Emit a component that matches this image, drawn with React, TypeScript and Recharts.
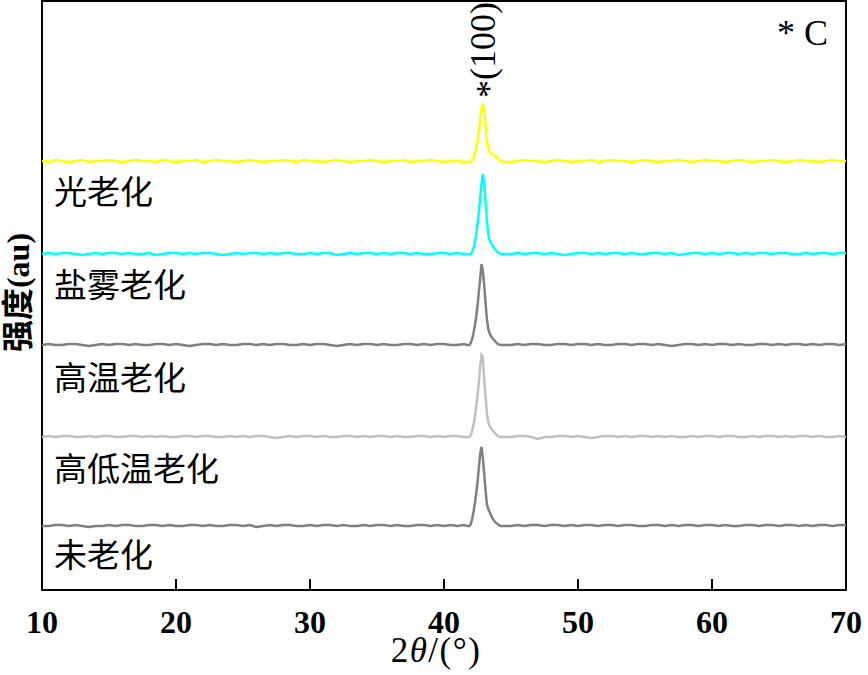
import React from 'react';
import { LineChart, Line, XAxis, YAxis, ReferenceArea, ReferenceLine, ReferenceDot } from 'recharts';

// 2θ sample positions (degrees): before the peak, across the peak, after the peak
const thetaPre = [
  10, 10.5, 11, 11.5, 12, 12.5, 13, 13.5, 14, 14.5, 15, 15.5, 16, 16.5, 17, 17.5,
  18, 18.5, 19, 19.5, 20, 20.5, 21, 21.5, 22, 22.5, 23, 23.5, 24, 24.5, 25, 25.5,
  26, 26.5, 27, 27.5, 28, 28.5, 29, 29.5, 30, 30.5, 31, 31.5, 32, 32.5, 33, 33.5,
  34, 34.5, 35, 35.5, 36, 36.5, 37, 37.5, 38, 38.5, 39, 39.5, 40, 40.5, 41, 41.5,
];
const thetaPeak = [
  41.7, 41.9, 42.0, 42.1, 42.2, 42.3, 42.4, 42.5, 42.6, 42.7, 42.8, 42.9,
  43.0, 43.1, 43.2, 43.3, 43.4, 43.5, 43.6, 43.8, 44.0, 44.2, 44.5,
];
const thetaPost = [
  45, 45.5, 46, 46.5, 47, 47.5, 48, 48.5, 49, 49.5, 50, 50.5, 51, 51.5, 52, 52.5,
  53, 53.5, 54, 54.5, 55, 55.5, 56, 56.5, 57, 57.5, 58, 58.5, 59, 59.5, 60, 60.5,
  61, 61.5, 62, 62.5, 63, 63.5, 64, 64.5, 65, 65.5, 66, 66.5, 67, 67.5, 68, 68.5,
  69, 69.5, 70,
];
const twoTheta = [...thetaPre, ...thetaPeak, ...thetaPost];

// intensities (au), relative to each trace's own baseline
const unaged = [
  0, 0, 1, 1, 0, 1, 0, -1, 0, 0, 1, 0, 1, 1, 0, 0, 1, 1, 0, 1, 0, 0, 1, 1, 0, 1, 0, 0, 1, 1, 0, 1,
  -1, 0, 1, 0, 1, 1, 0, 0, 1, 0, 1, 1, 0, 1, 0, 0, 1, 0, 1, 1, 0, 1, 0, 0, 1, 1, 0, 1, 0, 1, 0, 1,
  0, 0, 2, 7, 14, 22, 32, 44, 58, 72, 79, 68, 52, 36, 22, 17, 14, 11, 8, 4, 2, 0, 0,
  0, 1, 0, 1, 1, 0, 1, 1, 0, 1, 0, 1, 1, 0, 1, 1, 0, 1, 1, 0, 0, 1, 1, 0, 1, 0, 1, 1, 0, 1,
  1, 0, 1, 0, 0, 1, 1, 0, 1, 1, 0, 1, 1, 0, 1, 0, 1, 1, 0, 1, 1,
];
const highLowTemp = [
  0, 1, 0, 1, 1, 0, 0, 1, 0, 1, 1, 0, 0, 1, 1, 0, 1, 0, 1, 0, 0, 1, 1, 0, 1, 1, 0, 0, 1, 0, 1, 0,
  1, 1, 0, -1, 0, 1, 0, 1, 1, 0, 1, 0, 0, 1, 1, 0, 1, 0, 1, 1, 0, 1, 0, 0, 1, 1, 0, 1, 0, 1, 1, 0,
  0, 0, 2, 6, 12, 20, 30, 41, 55, 70, 82, 80, 58, 40, 24, 15, 11, 9, 7, 4, 1, 0, 0,
  0, 1, 1, 0, -2, 0, 0, 1, 1, 0, 1, 0, -1, 0, 1, 1, 0, 1, 0, 1, 1, 0, 1, 0, 1, 0, 0, 1, 0, 1,
  1, 0, 1, 1, 0, 0, 1, 0, 1, 1, 0, 1, 0, 1, 1, 0, 1, 0, 0, 1, 0,
];
const highTemp = [
  0, 1, 0, 0, 1, 1, 0, -1, 0, 1, 0, 1, 1, 0, 1, 0, 0, 1, 1, 0, 1, 0, -1, 0, 1, 1, 0, 1, 0, 0,
  1, 1, 0, 1, 0, 1, 1, 0, 0, 1, 0, 1, 1, 0, -1, 0, 1, 0, 1, 1, 0, 1, 0, 0, 1, 1, 0, 1, 0, 1,
  1, 0, 0, 1,
  0, 0, 2, 6, 12, 19, 28, 39, 53, 66, 81, 74, 60, 42, 26, 16, 12, 9, 7, 4, 1, 0, 0,
  0, 1, 0, 1, 1, 0, 0, 1, 1, 0, 1, 1, 0, 1, 0, 0, 1, 1, 0, 1, 1, 0, 1, 0, -1, 0, 1, 1, 0, 1,
  0, 1, 1, 0, 1, 0, 0, 1, 1, 0, 1, 0, 1, 1, 0, 1, 0, 1, 1, 0, 1,
];
const saltFog = [
  0, 1, 0, 1, 1, 0, -1, 0, 1, 0, 1, 1, 0, 1, 0, 0, 1, -1, 0, 1, 1, 0, 1, 0, 1, 1, 0, -1, 0, 1,
  0, 1, 1, 0, 1, 0, 1, 1, 0, 0, 1, 0, 1, 1, -1, 0, 1, 0, 1, 1, 0, 1, 0, 1, 1, 0, 1, 0, 0, 1,
  1, 0, 1, 0,
  0, 0, 0, 2, 6, 12, 20, 30, 42, 56, 70, 80, 70, 52, 34, 20, 14, 11, 9, 5, 2, 0, 0,
  0, 1, 0, 1, 1, 0, 1, 0, -1, 0, 1, 1, 0, 1, 0, 1, 1, 0, 1, 0, 0, 1, 1, 0, 1, -1, 0, 1, 1, 0,
  1, 0, 1, 1, 0, 1, 0, 1, 1, 0, 1, 1, 0, 0, 1, 0, 1, 1, 0, 1, 1,
];
const lightAged = [
  1, 0, 2, 1, 0, 1, 2, 0, 1, 1, 2, 1, 0, 1, 2, 1, 1, 0, 2, 1, 0, 1, 1, 2, 0, 1, 2, 1, 1, 0,
  1, 2, 1, 0, 1, 1, 2, 1, 0, 2, 1, 1, 0, 1, 2, 1, 0, 1, 1, 2, 1, 0, 1, 1, 2, 0, 1, 1, 2, 1,
  0, 1, 1, 0,
  0, 0, 0, 1, 4, 8, 14, 22, 31, 42, 53, 59, 50, 36, 22, 13, 10, 9, 8, 6, 4, 1, 0,
  0, 1, 2, 1, 1, 0, 1, 2, 1, 0, 1, 1, 2, 0, 1, 2, 1, 1, 0, 1, 2, 1, 0, 1, 1, 2, 1, 0, 1, 2,
  1, 1, 0, 1, 2, 1, 0, 1, 1, 2, 1, 0, 1, 2, 1, 1, 0, 1, 2, 1, 1,
];

const seriesNames = ['未老化', '高低温老化', '高温老化', '盐雾老化', '光老化'];
const seriesValues = [unaged, highLowTemp, highTemp, saltFog, lightAged];
const seriesOffsets = [64, 153, 245, 336, 428];
const seriesColors = ['#808080', '#c0c0c0', '#808080', '#00ffff', '#ffff00'];
const labelLevels = [37, 123, 214, 307, 400];

const xTicks = [10, 20, 30, 40, 50, 60, 70];
const innerTicks = [20, 30, 40, 50, 60];

const data = twoTheta.map((x, i) => {
  const row: Record<string, number> = { x };
  seriesValues.forEach((vals, s) => {
    row['s' + s] = (vals[i] ?? 0) + seriesOffsets[s];
  });
  return row;
});

const SERIF = "'Liberation Serif', 'Times New Roman', serif";
const CJK = "'Noto Sans CJK SC', sans-serif";

const XTick = (props: any) => {
  const { x, y, payload } = props;
  return (
    <text x={x} y={y + 43} textAnchor="middle" fontFamily={SERIF} fontWeight="bold" fontSize={32} fill="#000">
      {payload.value}
    </text>
  );
};

const XLabel = (props: any) => {
  const vb = props.viewBox || { x: 42, y: 590, width: 804 };
  return (
    <text
      x={vb.x + vb.width / 2 - 8}
      y={vb.y + 72}
      textAnchor="middle"
      fontFamily={SERIF}
      fontSize={35}
      letterSpacing={1.5}
      fill="#000"
    >
      <tspan>2</tspan>
      <tspan fontStyle="italic">θ</tspan>
      <tspan>/(°)</tspan>
    </text>
  );
};

const YLabel = (props: any) => {
  const vb = props.viewBox || { x: 0, y: 1, width: 42, height: 589 };
  const cx = vb.x + 18;
  const cy = vb.y + vb.height / 2 - 3;
  return (
    <text
      x={cx}
      y={cy}
      transform={`rotate(-90, ${cx}, ${cy})`}
      textAnchor="middle"
      dominantBaseline="central"
      fontFamily={`'Liberation Serif', ${CJK}`}
      fontWeight="bold"
      fontSize={32}
      fill="#000"
    >
      强度(au)
    </text>
  );
};

const makeSeriesLabel = (name: string) => (props: any) => {
  const vb = props.viewBox || { x: 0, y: 0 };
  return (
    <text x={vb.x} y={vb.y} textAnchor="start" dominantBaseline="central" fontFamily={CJK} fontSize={33} fill="#000">
      {name}
    </text>
  );
};

const PeakLabel = (props: any) => {
  const vb = props.viewBox || { x: 0, y: 0 };
  const { x, y } = vb;
  return (
    <text
      x={x}
      y={y}
      transform={`rotate(-90, ${x}, ${y})`}
      textAnchor="start"
      dominantBaseline="central"
      fontFamily={SERIF}
      fontSize={36}
      fill="#000"
    >
      <tspan dy={6}>*</tspan>
      <tspan dy={-6}>(100)</tspan>
    </text>
  );
};

const PhaseLabel = (props: any) => {
  const vb = props.viewBox || { x: 0, y: 0 };
  return (
    <text x={vb.x} y={vb.y} textAnchor="end" fontFamily={SERIF} fontSize={36} fill="#000">
      * C
    </text>
  );
};

export default function App() {
  return (
    <div style={{ position: 'absolute', left: 0, top: 0, width: 868, height: 675, background: '#fff' }}>
      <LineChart width={868} height={675} data={data} margin={{ top: 1, right: 22, bottom: 25, left: 0 }}>
        <XAxis
          dataKey="x"
          type="number"
          domain={[10, 70]}
          ticks={xTicks}
          interval={0}
          tick={<XTick />}
          tickLine={false}
          axisLine={false}
          tickSize={0}
          tickMargin={0}
          height={60}
          allowDataOverflow
          label={XLabel}
        />
        <YAxis
          type="number"
          domain={[0, 589]}
          width={42}
          tick={false}
          tickLine={false}
          axisLine={false}
          allowDataOverflow
          label={YLabel}
        />
        <ReferenceArea x1={10} x2={70} y1={0} y2={589} fill="none" stroke="#000" strokeWidth={2} />
        {innerTicks.map((t) => (
          <ReferenceLine
            key={'tk' + t}
            segment={[
              { x: t, y: 0 },
              { x: t, y: 11 },
            ]}
            stroke="#000"
            strokeWidth={2}
          />
        ))}
        {seriesNames.map((name, s) => (
          <Line
            key={name}
            dataKey={'s' + s}
            name={name}
            type="linear"
            stroke={seriesColors[s]}
            strokeWidth={2.5}
            dot={false}
            activeDot={false}
            isAnimationActive={false}
          />
        ))}
        {seriesNames.map((name, s) => (
          <ReferenceDot
            key={'lb' + s}
            x={10.9}
            y={labelLevels[s]}
            r={0}
            fill="none"
            stroke="none"
            label={makeSeriesLabel(name)}
          />
        ))}
        <ReferenceDot x={42.91} y={492} r={0} fill="none" stroke="none" label={PeakLabel} />
        <ReferenceDot x={68.66} y={545} r={0} fill="none" stroke="none" label={PhaseLabel} />
      </LineChart>
    </div>
  );
}
